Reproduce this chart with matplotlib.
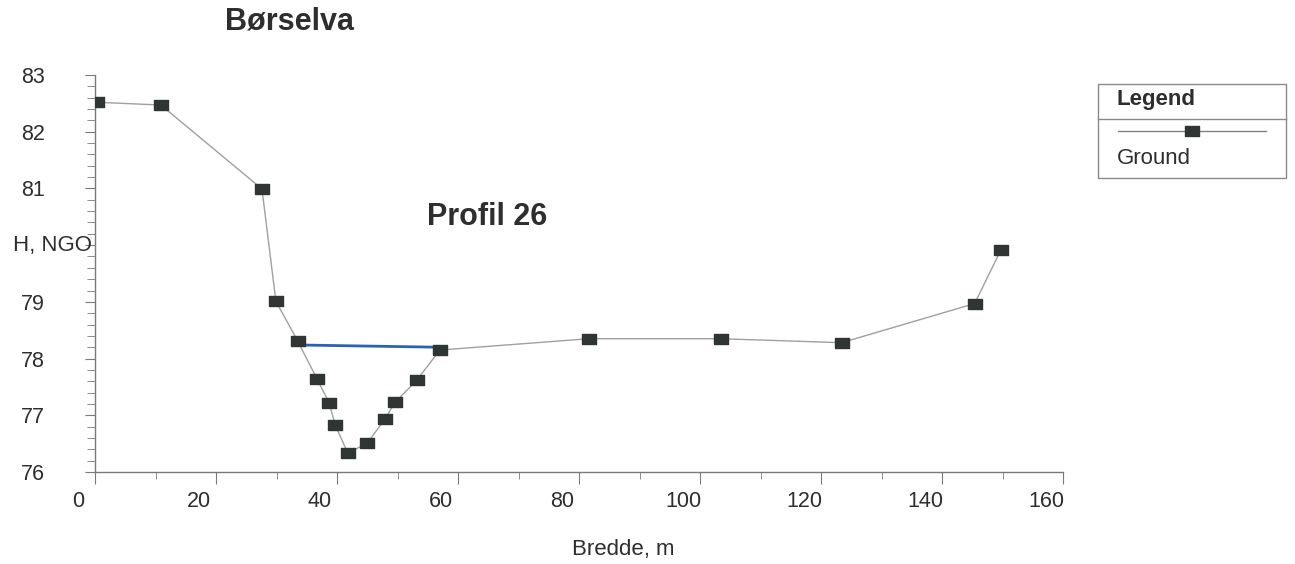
import matplotlib
matplotlib.use('Agg')
import matplotlib.pyplot as plt
import matplotlib.transforms as mtransforms
from matplotlib.path import Path
from matplotlib.lines import Line2D
from matplotlib.patches import Rectangle
from matplotlib.ticker import MultipleLocator, FuncFormatter

plt.rcParams['font.family'] = ['Liberation Sans', 'DejaVu Sans']

## profile data (bredde in m, hoyde in m NGO)
bredde = [0.3, 10.9, 27.6, 29.9, 33.5, 36.7, 38.7, 39.7, 41.8, 45.0,
          47.9, 49.6, 53.2, 57.0, 81.6, 103.4, 123.4, 145.4, 149.7]
hoyde  = [82.52, 82.47, 80.99, 79.01, 78.31, 77.64, 77.22, 76.83, 76.33, 76.51,
          76.93, 77.23, 77.62, 78.15, 78.35, 78.35, 78.28, 78.97, 79.91]

## water level
vann_x = [33.5, 57.0]
vann_y = [78.24, 78.20]

yticks = [76, 77, 78, 79, 80, 81, 82, 83]
xticks = [0, 20, 40, 60, 80, 100, 120, 140, 160]

W, H = 1295, 564
def px(x, y):
    return (x / W, 1 - y / H)

fig = plt.figure(figsize=(W / 100, H / 100), dpi=100, facecolor='w')
ax = fig.add_axes([95 / W, 1 - 472 / H, (1063 - 95) / W, (472 - 75) / H])

rect = Path([(-1, -0.75), (1, -0.75), (1, 0.75), (-1, 0.75), (-1, -0.75)])
mcol = '#2f3533'
lcol = '#a0a0a0'

ax.plot(bredde, hoyde, color=lcol, lw=1.0, marker=rect, ms=9.5,
        mfc=mcol, mec=mcol, zorder=3)
ax.plot(vann_x, vann_y, color='#2c62b5', lw=2.0, zorder=2)

ax.set_xlim(0, 160)
ax.set_ylim(76, 83)
ax.set_xticks(xticks)
ax.set_yticks(yticks)
ax.xaxis.set_minor_locator(MultipleLocator(10))
ax.yaxis.set_minor_locator(MultipleLocator(0.2))
ax.yaxis.set_major_formatter(FuncFormatter(lambda v, p: '' if v == 80 else '%d' % v))

for s in ['top', 'right']:
    ax.spines[s].set_visible(False)
for s in ['left', 'bottom']:
    ax.spines[s].set_color('#7a7a7a')
    ax.spines[s].set_linewidth(1.0)

ax.tick_params(axis='y', which='major', length=7, pad=29, color='#7a7a7a',
               labelsize=15.5, labelcolor='#2e2e2e')
ax.tick_params(axis='y', which='minor', length=6, color='#7a7a7a')
ax.tick_params(axis='x', which='major', length=8.5, pad=5.5, color='#7a7a7a',
               labelsize=15.5, labelcolor='#2e2e2e')
ax.tick_params(axis='x', which='minor', length=5, color='#7a7a7a')

# x tick labels sit a bit left of their ticks
off = mtransforms.ScaledTranslation(-17 / 100, 0, fig.dpi_scale_trans)
for lbl in ax.get_xticklabels():
    lbl.set_transform(lbl.get_transform() + off)

fig.text(*px(13, 245), 'H, NGO', fontsize=16, color='#2e2e2e', va='center', ha='left')
fig.text(*px(623, 550), 'Bredde, m', fontsize=16, color='#2e2e2e', va='center', ha='center')
fig.text(*px(225, 22), 'Børselva', fontsize=22, fontweight='bold', color='#2e2e2e',
         va='center', ha='left')
fig.text(*px(427, 217), 'Profil 26', fontsize=22, fontweight='bold', color='#2e2e2e',
         va='center', ha='left')

## legend box
x0, y0 = px(1098, 178)
fig.add_artist(Rectangle((x0, y0), 188 / W, 94 / H, transform=fig.transFigure,
                         fill=False, edgecolor='#8a8a8a', lw=1.0))
fig.add_artist(Line2D([1098 / W, 1286 / W], [1 - 119 / H] * 2, transform=fig.transFigure,
                      color='#8a8a8a', lw=1.0))
fig.add_artist(Line2D([1118 / W, 1266 / W], [1 - 131 / H] * 2, transform=fig.transFigure,
                      color='#808080', lw=1.0))
fig.add_artist(Line2D([1192 / W], [1 - 131 / H], transform=fig.transFigure,
                      marker=rect, ms=9.5, mfc=mcol, mec=mcol, lw=0))
fig.text(*px(1117, 100), 'Legend', fontsize=16, fontweight='bold', color='#2e2e2e',
         va='center', ha='left')
fig.text(*px(1117, 158), 'Ground', fontsize=16, color='#2e2e2e', va='center', ha='left')

fig.savefig('out.png', dpi=100, facecolor='w')
